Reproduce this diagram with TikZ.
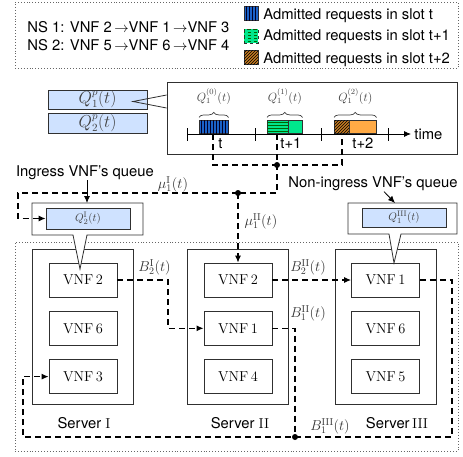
\documentclass[tikz,border=0pt]{standalone}
\usepackage[no-math]{fontspec}
\setmainfont{TeX Gyre Heros}
\usepackage{amsmath}
\usetikzlibrary{positioning,arrows.meta,calc,patterns,decorations.pathreplacing}
\tikzset{>={Latex[length=7pt,width=6pt]}}
\definecolor{qfill}{HTML}{CFE2FF}
\definecolor{slotblue}{HTML}{1A62C8}
\definecolor{slotgreen}{HTML}{00E68C}
\definecolor{slotorange}{HTML}{FFAA45}
\definecolor{slotbrown}{HTML}{C27A22}
\definecolor{linegray}{HTML}{303030}
\newcommand{\vnf}[1]{$\mathrm{VNF}\,#1$}

\begin{document}
\begin{tikzpicture}[x=1pt, y=-1pt, line width=0.8pt, node distance=13.5pt,
    txt/.style={font=\fontsize{14.8}{17}\selectfont, inner sep=0pt},
    mlbl/.style={font=\fontsize{14}{16}\selectfont, text=black!80, inner sep=1pt},
    qlbl/.style={font=\fontsize{12}{14}\selectfont, text=black!75, inner sep=1pt},
    qbox/.style={draw=linegray, fill=qfill, text=black!75, rectangle, inner sep=0pt},
    plainbox/.style={draw=linegray, rectangle, inner sep=0pt},
    slot/.style={draw=linegray, rectangle, inner sep=0pt, line width=0.6pt},
    vnfbox/.style={plainbox, fill=white, minimum width=68pt, minimum height=34pt, font=\fontsize{13.5}{15}\selectfont},
    server/.style={plainbox, minimum width=101pt, minimum height=155pt},
    flow/.style={dash pattern=on 6pt off 4pt, line width=1.1pt},
    dotbox/.style={draw=black!60, dotted, line width=0.9pt},
    junction/.style={circle, fill, inner sep=0pt, minimum size=6pt},
    brc/.style={decorate, decoration={brace, amplitude=5pt}, draw=black!75, line width=0.7pt},
    callbox/.style={draw=linegray, fill=white, line width=0.8pt}]
  \useasboundingbox (0,0) rectangle (463,456);

  % legend
  \node[dotbox, minimum width=443pt, minimum height=66pt] (legend) at (236.5,35) {};
  \node[txt, anchor=base west] (ns1) at (27,32.3) {NS 1: VNF 2\,$\rightarrow$VNF 1\,$\rightarrow$VNF 3};
  \node[txt, anchor=base west] (ns2) at (27,50) {NS 2: VNF 5\,$\rightarrow$VNF 6\,$\rightarrow$VNF 4};
  \node[slot, minimum size=14pt, fill=slotblue, postaction={pattern=vertical lines, pattern color=black!85!blue}] (icon0) at (251,13.5) {};
  \node[slot, minimum size=14pt, dashed, fill=slotgreen, postaction={pattern=horizontal lines, pattern color=green!40!black}] (icon1) at (251,36) {};
  \node[slot, minimum size=14pt, fill=slotbrown, postaction={pattern=north east lines}] (icon2) at (251,57) {};
  \node[txt, anchor=base west] (leg0) at (263,19.5) {Admitted requests in slot t};
  \node[txt, anchor=base west] (leg1) at (263,40.7) {Admitted requests in slot t+1};
  \node[txt, anchor=base west] (leg2) at (263,63) {Admitted requests in slot t+2};

  % per-NS queues and time line
  \node[plainbox, minimum width=290pt, minimum height=72pt] (tline) at (312,118) {};
  \node[qbox, minimum width=99pt, minimum height=19pt, font=\fontsize{16}{18}\selectfont] (qp1) at (97.5,99.5) {$Q_1^p(t)$};
  \node[qbox, minimum width=99pt, minimum height=20pt, font=\fontsize{16}{18}\selectfont] (qp2) at (97.5,123) {$Q_2^p(t)$};
  \coordinate (qtip) at (133,101.5);
  \draw[linegray] ($(tline.west)+(0,-23)$) -- (qtip) -- ($(tline.west)+(0,-10)$);

  \coordinate (ax0) at (187,134);
  \draw[->] (ax0) -- (411,134) node[txt, right=3pt] (timelbl) {time};
  \foreach \x in {187,255,321,388}
    \draw (\x,128) -- (\x,141);

  \node[slot, anchor=south west, minimum width=29pt, minimum height=13pt, fill=slotblue, postaction={pattern=vertical lines, pattern color=black!85!blue}] (slot0) at (199,134) {};
  \node[slot, anchor=south west, minimum width=21pt, minimum height=13pt, fill=slotgreen, postaction={pattern=horizontal lines, pattern color=green!40!black}] (slot1a) at (267,134) {};
  \node[slot, anchor=south west, minimum width=14pt, minimum height=13pt, fill=slotgreen] (slot1b) at (288,134) {};
  \node[slot, anchor=south west, minimum width=15pt, minimum height=13pt, fill=slotbrown, postaction={pattern=north east lines}] (slot2a) at (334,134) {};
  \node[slot, anchor=south west, minimum width=27pt, minimum height=13pt, fill=slotorange] (slot2b) at (349,134) {};

  \draw[brc] ($(slot0.north west)+(0,-3)$) -- ($(slot0.north east)+(0,-3)$) node[qlbl, midway, above=12pt] (qs0) {$Q_1^{(0)}(t)$};
  \draw[brc] ($(slot1a.north west)+(0,-3)$) -- ($(slot1b.north east)+(0,-3)$) node[qlbl, midway, above=12pt] (qs1) {$Q_1^{(1)}(t)$};
  \draw[brc] ($(slot2a.north west)+(0,-3)$) -- ($(slot2b.north east)+(0,-3)$) node[qlbl, midway, above=12pt] (qs2) {$Q_1^{(2)}(t)$};

  \node[txt, anchor=base west] (tl0) at (218,148.5) {t};
  \node[txt, anchor=base west] (tl1) at (280,148.5) {t+1};
  \node[txt, anchor=base west] (tl2) at (352,148.5) {t+2};

  % service rates
  \coordinate (mk0) at (213,134);
  \coordinate (mk1) at (277,134);
  \coordinate (mk2) at (342,134);
  \node[junction] (jt) at (277,165) {};
  \node[junction] (jm) at (238,193) {};
  \draw[flow] (mk0) -- (213,165) -- (342,165) -- (mk2);
  \draw[flow] (mk1) -- (jt.center) -- (277,193) -- (jm.center);
  \node[mlbl] (mu1) at (173,184) {$\mu_1^{\mathrm{I}}(t)$};
  \node[mlbl] (mu2) at (261,221) {$\mu_1^{\mathrm{II}}(t)$};

  % servers
  \node[dotbox, minimum width=443pt, minimum height=209pt] (cluster) at (236.5,346.5) {};
  \node[server] (srv1) at (82.5,326.5) {};
  \node[server] (srv2) at (238,326.5) {};
  \node[server] (srv3) at (385.5,326.5) {};
  \node[vnfbox] (s1v2) at (83,280) {\vnf{2}};
  \node[vnfbox, below=of s1v2] (s1v6) {\vnf{6}};
  \node[vnfbox, below=of s1v6] (s1v3) {\vnf{3}};
  \node[vnfbox] (s2v2) at (238,280) {\vnf{2}};
  \node[vnfbox, below=of s2v2] (s2v1) {\vnf{1}};
  \node[vnfbox, below=of s2v1] (s2v4) {\vnf{4}};
  \node[vnfbox] (s3v1) at (385.5,280) {\vnf{1}};
  \node[vnfbox, below=of s3v1] (s3v6) {\vnf{6}};
  \node[vnfbox, below=of s3v6] (s3v5) {\vnf{5}};
  \node[txt, anchor=base] (lab1) at (84,428) {Server $\mathrm{I}$};
  \node[txt, anchor=base] (lab2) at (240,428) {Server $\mathrm{II}$};
  \node[txt, anchor=base] (lab3) at (397,428) {Server$\,\mathrm{III}$};

  % forwarding between VNFs
  \node[junction] (jb) at (295,437) {};
  \draw[flow, ->] (s1v2.east) -- (168,280) |- (s2v1.west);
  \draw[flow, ->] (s2v2.east) -- (s3v1.west);
  \draw[flow] (s2v1.east) -| (jb.center);
  \draw[flow, ->] (s3v1.east) -- (452,280) |- (jb.center) -- (23,437) |- (s1v3.west);
  \draw[flow, ->] (jm.center) -- (s2v2.north);
  \node[mlbl] (b2a) at (154.5,267) {$B_2^{\mathrm{I}}(t)$};
  \node[mlbl] (b2b) at (308,267) {$B_2^{\mathrm{II}}(t)$};
  \node[mlbl] (b1b) at (308,313) {$B_1^{\mathrm{II}}(t)$};
  \node[mlbl] (b1c) at (330,426) {$B_1^{\mathrm{III}}(t)$};

  % VNF queues
  \draw[callbox] (32,203) -- (143,203) -- (143,235) -- (87,235) -- (80,269) -- (73,235) -- (32,235) -- cycle;
  \draw[callbox] (348,203) -- (457,203) -- (457,234) -- (401,234) -- (394,263) -- (389,234) -- (348,234) -- cycle;
  \node[qbox, minimum width=84pt, minimum height=21pt, font=\fontsize{11}{13}\selectfont] (qi2) at (88,218.5) {$Q_2^{\mathrm{I}}(t)$};
  \node[qbox, minimum width=84pt, minimum height=19pt, font=\fontsize{11}{13}\selectfont] (qiii1) at (404,217.5) {$Q_1^{\mathrm{III}}(t)$};
  \draw[flow, ->] (jm.center) -- (18,193) |- (qi2.west);

  \node[txt, anchor=base] (ingtxt) at (85,176.5) {Ingress VNF's queue};
  \node[txt, anchor=base] (ningtxt) at (373,187) {Non-ingress VNF's queue};
  \coordinate (ingtop) at (87,203);
  \coordinate (ningtop) at (395,203);
  \draw[->] ($(ingtxt.south)+(2,0)$) -- (ingtop);
  \draw[->] ($(ningtxt.south)+(11,1)$) -- (ningtop);
\end{tikzpicture}
\end{document}
